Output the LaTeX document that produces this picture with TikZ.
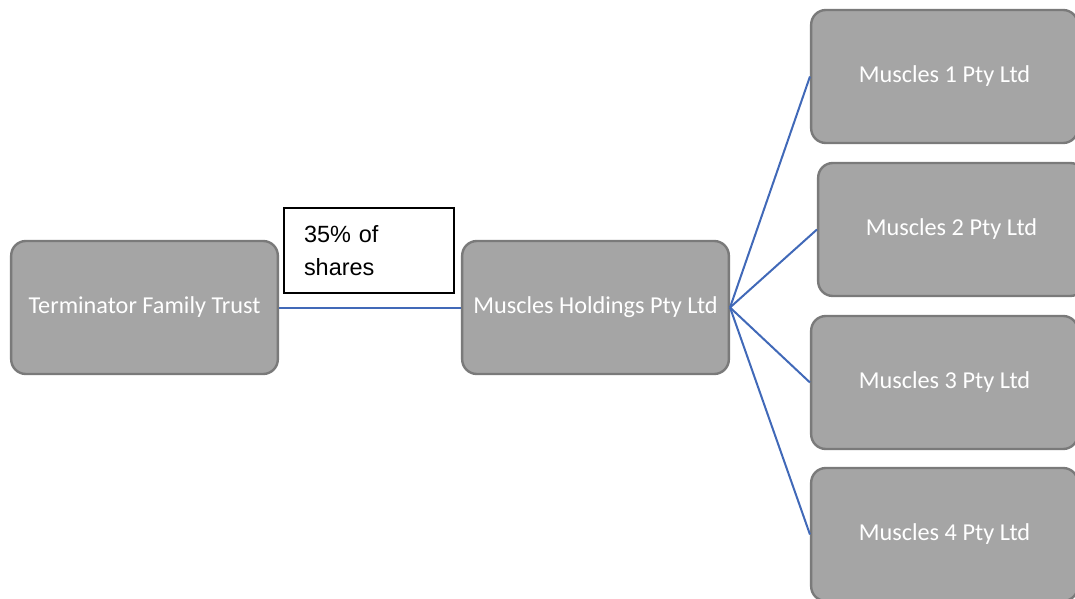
\documentclass[tikz,border=0pt]{standalone}
\usepackage{fontspec}
\setmainfont{Carlito}
\newfontfamily\arialfont{Liberation Sans}
\begin{document}
\begin{tikzpicture}[x=0.75pt,y=-0.75pt,
  entity/.style={draw=boxedge, fill=boxfill, line width=1.8pt, rounded corners=11pt,
    minimum width=200pt, minimum height=99.75pt, inner sep=0pt,
    text=white, font=\fontsize{18.2}{21}\selectfont},
  link/.style={draw=linkblue, line width=1.5pt},
  tag/.style={draw=black, fill=white, line width=1.5pt, text width=97.5pt, align=left,
    inner xsep=15pt, inner ysep=0pt, minimum height=63.75pt,
    font=\arialfont\fontsize{17.6}{25}\selectfont}]
  \definecolor{boxfill}{HTML}{A5A5A5}
  \definecolor{boxedge}{HTML}{7A7A7A}
  \definecolor{linkblue}{HTML}{4169B8}
  \useasboundingbox (0,0) rectangle (1075,599);
  \clip (0,0) rectangle (1075,599);

  % owners and holding company
  \node[entity] (trust) at (144.5,307.5) {Terminator Family Trust};
  \node[entity] (hold) at (595.5,307.5) {Muscles Holdings Pty Ltd};

  % subsidiaries
  \node[entity] (m1) at (944.5,76.5) {Muscles 1 Pty Ltd};
  \node[entity] (m2) at (951.5,229.5) {Muscles 2 Pty Ltd};
  \node[entity] (m3) at (944.5,382.5) {Muscles 3 Pty Ltd};
  \node[entity] (m4) at (944.5,534.5) {Muscles 4 Pty Ltd};

  % shareholding label
  \node[tag, anchor=north west] (share) at (283,207) {35\% of shares};

  % connectors
  \draw[link] (trust.east) -- (hold.west);
  \foreach \m in {m1,m2,m3,m4}
    \draw[link] (hold.east) -- (\m.west);
\end{tikzpicture}
\end{document}
